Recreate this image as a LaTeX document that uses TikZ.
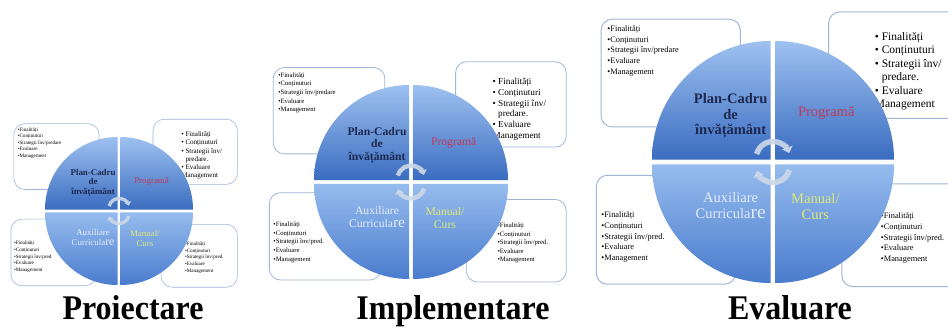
\documentclass[tikz,border=0pt]{standalone}
\usepackage{graphicx}
\usepackage{fontspec}
\setmainfont{Liberation Serif}
\usetikzlibrary{arrows.meta}

\definecolor{boxline}{RGB}{160,182,214}
\definecolor{quadlight}{RGB}{158,193,240}
\definecolor{quaddark}{RGB}{58,108,192}
\definecolor{lowlight}{RGB}{150,188,238}
\definecolor{lowdark}{RGB}{74,124,206}
\definecolor{navytext}{RGB}{28,40,78}
\definecolor{crimsontext}{RGB}{192,58,92}
\definecolor{palelabel}{RGB}{228,236,248}
\definecolor{limelabel}{RGB}{222,232,120}
\definecolor{arrowgray}{RGB}{206,216,232}

\tikzset{
  infobox/.style={draw=boxline, fill=white, rounded corners=11pt, inner sep=0pt},
  smalllist/.style={font=\fontsize{6.9}{8.9}\selectfont, align=left, inner sep=0pt},
  biglist/.style={font=\fontsize{9.5}{11.2}\selectfont, align=left, inner sep=0pt},
  quadlabel/.style={font=\fontsize{12}{13}\selectfont, align=center, inner sep=0pt},
  upperquad/.style={top color=quadlight, bottom color=quaddark},
  lowerquad/.style={top color=lowlight, bottom color=lowdark},
  cyclearrow/.style={draw=arrowgray, opacity=0.9, -{Triangle[length=0pt 1.1, width=0pt 2.0]}},
  stagetitle/.style={font=\fontsize{32}{36}\selectfont\bfseries, inner sep=0pt, anchor=base},
  % one cycle-matrix disc with its four information boxes, disc radius 100
  pics/cyclematrix/.style={code={
    % information boxes behind the disc
    \node[infobox, line width=#1*0.8pt, minimum width=115pt, minimum height=89pt] (-tlbox) at (-84.5,73.5) {};
    \node[infobox, line width=#1*0.8pt, minimum width=114pt, minimum height=88pt] (-trbox) at (103,80) {};
    \node[infobox, line width=#1*0.8pt, minimum width=115pt, minimum height=90pt] (-blbox) at (-88.5,-56) {};
    \node[infobox, line width=#1*0.8pt, minimum width=103pt, minimum height=85pt] (-brbox) at (108.5,-60.5) {};
    % box contents
    \node[smalllist, anchor=north west] (-tltext) at (-137,113)
      {•Finalități\\•Conținuturi\\•Strategii înv/predare\\•Evaluare\\•Management};
    \node[biglist, anchor=west] (-trtext) at (84,75)
      {• Finalități\\• Conținuturi\\• Strategii înv/\\\phantom{• }predare.\\• Evaluare\\Management};
    \node[smalllist, anchor=west] (-bltext) at (-142,-62)
      {•Finalități\\•Conținuturi\\•Strategii înv/pred.\\•Evaluare\\•Management};
    \node[smalllist, anchor=west] (-brtext) at (89,-63)
      {•Finalități\\•Conținuturi\\•Strategii înv/pred.\\•Evaluare\\•Management};
    % the four quadrants of the disc
    \path[upperquad] (-2,2) -- ++(-98,0) arc[start angle=180, end angle=90, radius=98] -- cycle;
    \path[upperquad] (2,2) -- ++(0,98) arc[start angle=90, end angle=0, radius=98] -- cycle;
    \path[lowerquad] (-2,-2) -- ++(-98,0) arc[start angle=180, end angle=270, radius=98] -- cycle;
    \path[lowerquad] (2,-2) -- ++(98,0) arc[start angle=0, end angle=-90, radius=98] -- cycle;
    % quadrant titles
    \node[quadlabel, text=navytext] (-plan) at (-35,38) {\bfseries Plan-Cadru\\\bfseries de\\\bfseries învățământ};
    \node[quadlabel, text=crimsontext] (-prog) at (44,40) {Programă};
    \node[quadlabel, text=palelabel] (-aux) at (-35,-36) {Auxiliare\\Curricula{\fontsize{16}{13}\selectfont re}};
    \node[quadlabel, text=limelabel] (-man) at (35,-37) {Manual/\\Curs};
    % circular arrows in the middle
    \draw[cyclearrow, line width=#1*4.5pt] (-13.5,6.6) arc[start angle=165, end angle=18, radius=14];
    \draw[cyclearrow, line width=#1*4.5pt] (13.5,-6.6) arc[start angle=-15, end angle=-162, radius=14];
  }}
}

\begin{document}
\begin{tikzpicture}[x=1pt, y=1pt]
  \fill[white] (0,0) rectangle (948,-327);
  \useasboundingbox (0,0) rectangle (948,-327);

  \begin{scope}[shift={(119,-211)}, scale=0.74, transform shape]
    \pic (proj) {cyclematrix=0.74};
  \end{scope}
  \begin{scope}[shift={(411,-182)}, scale=0.97, transform shape]
    \pic (impl) {cyclematrix=0.97};
  \end{scope}
  \begin{scope}[shift={(773,-162)}, scale=1.21, transform shape]
    \pic (eval) {cyclematrix=1.21};
  \end{scope}

  \node[stagetitle] (t1) at (133,-319) {\scalebox{1}[1.08]{Proiectare}};
  \node[stagetitle] (t2) at (453,-319) {\scalebox{1}[1.08]{Implementare}};
  \node[stagetitle] (t3) at (790,-319) {\scalebox{1}[1.08]{Evaluare}};
\end{tikzpicture}
\end{document}
